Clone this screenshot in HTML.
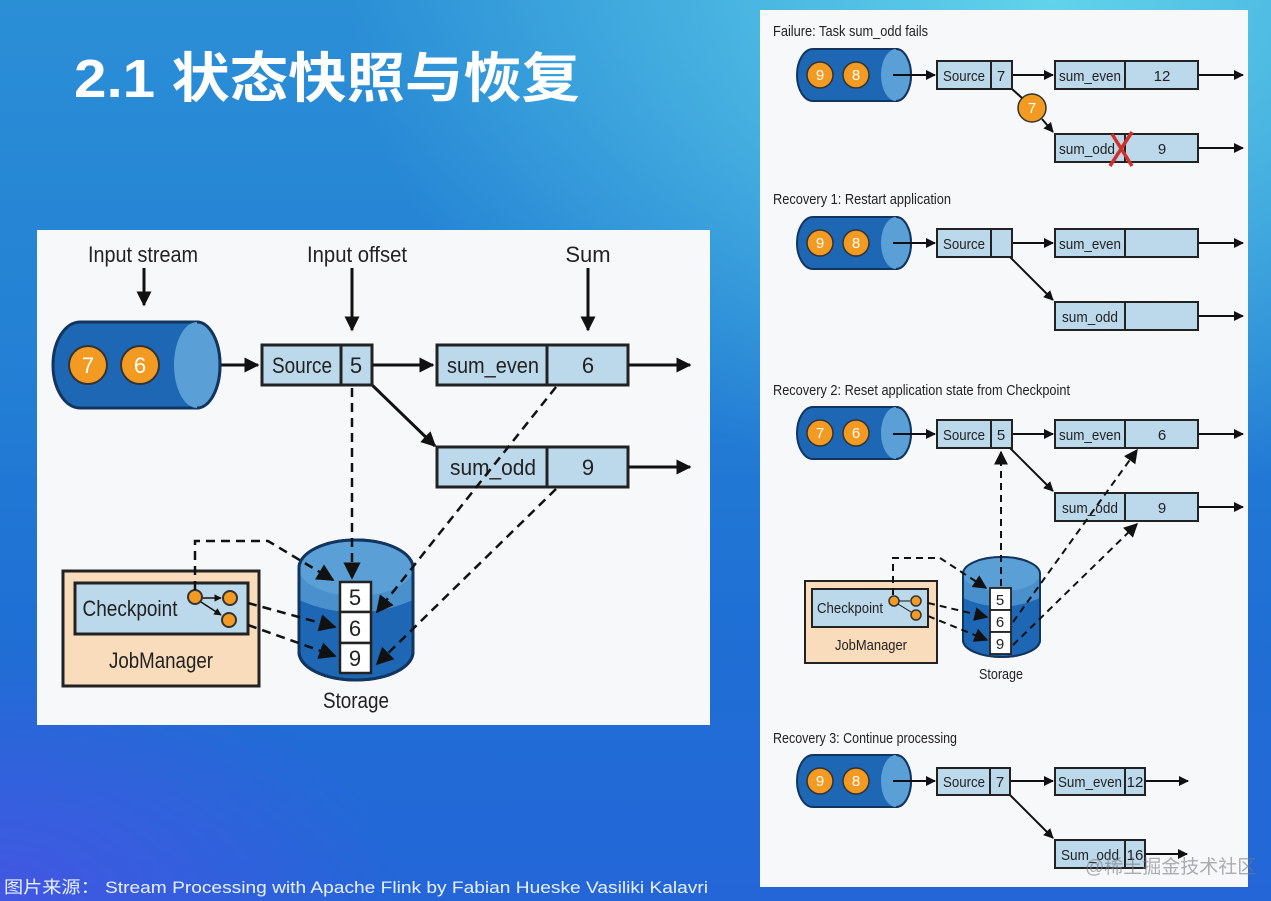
<!DOCTYPE html>
<html><head><meta charset="utf-8"><style>
html,body{margin:0;padding:0;width:1271px;height:901px;overflow:hidden}
body{background:
radial-gradient(ellipse 700px 500px at 1050px 0px, rgba(100,215,235,0.95), rgba(100,215,235,0) 100%),
radial-gradient(ellipse 400px 250px at 0px 901px, rgba(80,80,230,0.7), rgba(80,80,230,0) 100%),
linear-gradient(180deg,#2b8fd6 0%,#2380d4 40%,#1f6fd4 70%,#2466d8 100%);}
svg{position:absolute;left:0;top:0}
text{font-family:"Liberation Sans Narrow","Liberation Sans",sans-serif;fill:#222}
</style></head><body>
<svg width="1271" height="901" viewBox="0 0 1271 901" xmlns="http://www.w3.org/2000/svg">
<defs>
<marker id="a" viewBox="0 0 10 10" refX="9" refY="5" markerWidth="5" markerHeight="5" orient="auto"><path d="M0,0 L10,5 L0,10 z" fill="#111"/></marker>
<marker id="s" viewBox="0 0 10 10" refX="9" refY="5" markerWidth="7" markerHeight="7" orient="auto"><path d="M0,0 L10,5 L0,10 z" fill="#111"/></marker>
</defs>
<text x="74" y="97" textLength="506" lengthAdjust="spacingAndGlyphs" style="font-family:'Liberation Sans','Noto Sans CJK SC',sans-serif;font-weight:bold;font-size:54px;fill:#fff">2.1 状态快照与恢复</text>
<text x="4" y="893" textLength="704" lengthAdjust="spacingAndGlyphs" style="font-family:'Liberation Sans','Noto Sans CJK SC',sans-serif;font-size:17px;fill:#e8f0ff">图片来源：  Stream Processing with Apache Flink by Fabian Hueske Vasiliki Kalavri</text>

<!-- LEFT PANEL -->
<rect x="37" y="230" width="673" height="495" fill="#f7f8fa"/>
<g font-size="22">
<text x="143" y="262" text-anchor="middle" textLength="110" lengthAdjust="spacingAndGlyphs">Input stream</text>
<text x="357" y="262" text-anchor="middle" textLength="100" lengthAdjust="spacingAndGlyphs">Input offset</text>
<text x="588" y="262" text-anchor="middle">Sum</text>
</g>
<g stroke="#111" stroke-width="3" fill="none" marker-end="url(#a)">
<line x1="144" y1="268" x2="144" y2="305"/>
<line x1="352" y1="268" x2="352" y2="330"/>
<line x1="588" y1="268" x2="588" y2="330"/>
<line x1="195" y1="365" x2="258" y2="365"/>
<line x1="372" y1="365" x2="433" y2="365"/>
<line x1="628" y1="365" x2="690" y2="365"/>
<line x1="628" y1="467" x2="690" y2="467"/>
<line x1="370" y1="383" x2="435" y2="446"/>
</g>
<!-- input cylinder -->
<path d="M80 322 H197 A23 43 0 0 1 197 408 H80 A27 43 0 0 1 80 322 Z" fill="#1d67b4" stroke="#123560" stroke-width="3"/>
<path d="M197 322 A23 43 0 0 1 197 408 A23 43 0 0 1 197 322 Z" fill="#5a9fd6"/>
<path d="M197 322 A23 43 0 0 1 197 408" fill="none" stroke="#123560" stroke-width="3"/>
<circle cx="88" cy="365" r="19" fill="#f29a22" stroke="#333" stroke-width="2"/>
<circle cx="140" cy="365" r="19" fill="#f29a22" stroke="#333" stroke-width="2"/>
<g font-size="22" fill="#fff"><text x="88" y="373" text-anchor="middle" style="fill:#fff">7</text><text x="140" y="373" text-anchor="middle" style="fill:#fff">6</text></g>
<!-- boxes -->
<g fill="#bcd9ec" stroke="#222" stroke-width="3">
<rect x="262" y="345" width="110" height="40"/><line x1="341" y1="345" x2="341" y2="385"/>
<rect x="437" y="345" width="191" height="40"/><line x1="547" y1="345" x2="547" y2="385"/>
<rect x="437" y="447" width="191" height="40"/><line x1="547" y1="447" x2="547" y2="487"/>
</g>
<g font-size="22">
<text x="302" y="373" text-anchor="middle" textLength="60" lengthAdjust="spacingAndGlyphs">Source</text>
<text x="356" y="373" text-anchor="middle">5</text>
<text x="493" y="373" text-anchor="middle" textLength="92" lengthAdjust="spacingAndGlyphs">sum_even</text>
<text x="588" y="373" text-anchor="middle">6</text>
<text x="493" y="475" text-anchor="middle" textLength="86" lengthAdjust="spacingAndGlyphs">sum_odd</text>
<text x="588" y="475" text-anchor="middle">9</text>
</g>
<!-- storage -->
<path d="M299 568 A57 28 0 0 1 413 568 V652 A57 28 0 0 1 299 652 Z" fill="#1d67b4" stroke="#123560" stroke-width="3"/>
<path d="M299 568 A57 28 0 0 1 413 568 V600 Q356 625 299 600 Z" fill="#4a90cc"/>
<ellipse cx="356" cy="568" rx="57" ry="28" fill="#5a9fd6"/>
<path d="M299 568 A57 28 0 0 1 413 568 V652 A57 28 0 0 1 299 652 Z" fill="none" stroke="#123560" stroke-width="3"/>
<g fill="#fff" stroke="#222" stroke-width="2.5">
<rect x="340" y="582" width="31" height="30"/><rect x="340" y="612" width="31" height="31"/><rect x="340" y="643" width="31" height="30"/>
</g>
<g font-size="22"><text x="355" y="605" text-anchor="middle">5</text><text x="355" y="636" text-anchor="middle">6</text><text x="355" y="666" text-anchor="middle">9</text></g>
<text x="356" y="708" font-size="22" text-anchor="middle" textLength="66" lengthAdjust="spacingAndGlyphs">Storage</text>
<!-- jobmanager -->
<rect x="63" y="571" width="196" height="115" fill="#f8dcbc" stroke="#222" stroke-width="3"/>
<rect x="75" y="583" width="173" height="51" fill="#bcd9ec" stroke="#222" stroke-width="3"/>
<text x="130" y="616" font-size="22" text-anchor="middle" textLength="95" lengthAdjust="spacingAndGlyphs">Checkpoint</text>
<text x="161" y="668" font-size="22" text-anchor="middle" textLength="104" lengthAdjust="spacingAndGlyphs">JobManager</text>
<g stroke="#111" stroke-width="1.5" marker-end="url(#a)"><line x1="202" y1="598" x2="221" y2="598"/><line x1="201" y1="602" x2="221" y2="615"/></g>
<g fill="#f29a22" stroke="#333" stroke-width="2"><circle cx="195" cy="597" r="7"/><circle cx="230" cy="598" r="7"/><circle cx="229" cy="620" r="7"/></g>
<g stroke="#111" stroke-width="2.5" fill="none" stroke-dasharray="9,6" marker-end="url(#s)">
<path d="M195 590 V541 H268 L333 580"/>
<line x1="248" y1="603" x2="335" y2="627"/>
<line x1="248" y1="625" x2="335" y2="656"/>
<line x1="352" y1="388" x2="352" y2="578"/>
<line x1="556" y1="387" x2="377" y2="612"/>
<line x1="556" y1="489" x2="377" y2="664"/>
</g>

<!-- RIGHT PANEL -->
<rect x="760" y="10" width="488" height="877" fill="#f7f8fa"/>
<g font-size="15">
<text x="773" y="36" textLength="155" lengthAdjust="spacingAndGlyphs">Failure: Task sum_odd fails</text>
<text x="773" y="204" textLength="178" lengthAdjust="spacingAndGlyphs">Recovery 1: Restart application</text>
<text x="773" y="395" textLength="297" lengthAdjust="spacingAndGlyphs">Recovery 2: Reset application state from Checkpoint</text>
<text x="773" y="743" textLength="184" lengthAdjust="spacingAndGlyphs">Recovery 3: Continue processing</text>
</g>

<g id="cyl1">
<path d="M813 49 H896 A15 26 0 0 1 896 101 H813 A16 26 0 0 1 813 49 Z" fill="#1d67b4" stroke="#123560" stroke-width="2"/>
<path d="M896 49 A15 26 0 0 1 896 101 A15 26 0 0 1 896 49 Z" fill="#5a9fd6"/>
<path d="M896 49 A15 26 0 0 1 896 101" fill="none" stroke="#123560" stroke-width="2"/>
</g>
<use href="#cyl1" y="168"/><use href="#cyl1" y="358"/><use href="#cyl1" y="706"/>
<g fill="#f29a22" stroke="#333" stroke-width="1.5">
<circle cx="820" cy="75" r="13"/><circle cx="856" cy="75" r="13"/>
<circle cx="820" cy="243" r="13"/><circle cx="856" cy="243" r="13"/>
<circle cx="820" cy="433" r="13"/><circle cx="856" cy="433" r="13"/>
<circle cx="820" cy="781" r="13"/><circle cx="856" cy="781" r="13"/>
<circle cx="1032" cy="108" r="14"/>
</g>
<g font-size="15" text-anchor="middle" style="fill:#fff">
<text x="820" y="80" style="fill:#fff">9</text><text x="856" y="80" style="fill:#fff">8</text>
<text x="820" y="248" style="fill:#fff">9</text><text x="856" y="248" style="fill:#fff">8</text>
<text x="820" y="438" style="fill:#fff">7</text><text x="856" y="438" style="fill:#fff">6</text>
<text x="820" y="786" style="fill:#fff">9</text><text x="856" y="786" style="fill:#fff">8</text>
<text x="1032" y="113" style="fill:#fff">7</text>
</g>
<g stroke="#111" stroke-width="2" fill="none" marker-end="url(#a)">
<line x1="893" y1="75" x2="935" y2="75"/><line x1="1012" y1="75" x2="1053" y2="75"/><line x1="1198" y1="75" x2="1243" y2="75"/><line x1="1198" y1="148" x2="1243" y2="148"/>
<line x1="1042" y1="119" x2="1053" y2="132"/>
<line x1="893" y1="243" x2="935" y2="243"/><line x1="1012" y1="243" x2="1053" y2="243"/><line x1="1198" y1="243" x2="1243" y2="243"/><line x1="1198" y1="316" x2="1243" y2="316"/>
<line x1="1010" y1="257" x2="1053" y2="300"/>
<line x1="893" y1="434" x2="935" y2="434"/><line x1="1012" y1="434" x2="1053" y2="434"/><line x1="1198" y1="434" x2="1243" y2="434"/><line x1="1198" y1="507" x2="1243" y2="507"/>
<line x1="1010" y1="448" x2="1053" y2="491"/>
<line x1="893" y1="781" x2="935" y2="781"/><line x1="1010" y1="781" x2="1053" y2="781"/><line x1="1145" y1="781" x2="1188" y2="781"/><line x1="1145" y1="854" x2="1187" y2="854"/>
<line x1="1010" y1="795" x2="1053" y2="838"/>
</g>
<line x1="1012" y1="89" x2="1022" y2="98" stroke="#111" stroke-width="2"/>
<g fill="#bcd9ec" stroke="#222" stroke-width="2">
<rect x="937" y="61" width="75" height="28"/><line x1="991" y1="61" x2="991" y2="89"/>
<rect x="1055" y="61" width="143" height="28"/><line x1="1125" y1="61" x2="1125" y2="89"/>
<rect x="1055" y="134" width="143" height="28"/><line x1="1125" y1="134" x2="1125" y2="162"/>
<rect x="937" y="229" width="75" height="28"/><line x1="991" y1="229" x2="991" y2="257"/>
<rect x="1055" y="229" width="143" height="28"/><line x1="1125" y1="229" x2="1125" y2="257"/>
<rect x="1055" y="302" width="143" height="28"/><line x1="1125" y1="302" x2="1125" y2="330"/>
<rect x="937" y="420" width="75" height="28"/><line x1="991" y1="420" x2="991" y2="448"/>
<rect x="1055" y="420" width="143" height="28"/><line x1="1125" y1="420" x2="1125" y2="448"/>
<rect x="1055" y="493" width="143" height="28"/><line x1="1125" y1="493" x2="1125" y2="521"/>
<rect x="937" y="768" width="73" height="27"/><line x1="990" y1="768" x2="990" y2="795"/>
<rect x="1055" y="768" width="90" height="27"/><line x1="1125" y1="768" x2="1125" y2="795"/>
<rect x="1055" y="840" width="90" height="28"/><line x1="1125" y1="840" x2="1125" y2="868"/>
</g>
<g font-size="15" text-anchor="middle">
<text x="964" y="81" textLength="42" lengthAdjust="spacingAndGlyphs">Source</text><text x="1001" y="81">7</text>
<text x="1090" y="81" textLength="62" lengthAdjust="spacingAndGlyphs">sum_even</text><text x="1162" y="81">12</text>
<text x="1087" y="154" textLength="56" lengthAdjust="spacingAndGlyphs">sum_odd</text><text x="1162" y="154">9</text>
<text x="964" y="249" textLength="42" lengthAdjust="spacingAndGlyphs">Source</text>
<text x="1090" y="249" textLength="62" lengthAdjust="spacingAndGlyphs">sum_even</text>
<text x="1090" y="322" textLength="56" lengthAdjust="spacingAndGlyphs">sum_odd</text>
<text x="964" y="440" textLength="42" lengthAdjust="spacingAndGlyphs">Source</text><text x="1001" y="440">5</text>
<text x="1090" y="440" textLength="62" lengthAdjust="spacingAndGlyphs">sum_even</text><text x="1162" y="440">6</text>
<text x="1090" y="513" textLength="56" lengthAdjust="spacingAndGlyphs">sum_odd</text><text x="1162" y="513">9</text>
<text x="964" y="787" textLength="42" lengthAdjust="spacingAndGlyphs">Source</text><text x="1000" y="787">7</text>
<text x="1090" y="787" textLength="64" lengthAdjust="spacingAndGlyphs">Sum_even</text><text x="1135" y="787">12</text>
<text x="1090" y="860" textLength="58" lengthAdjust="spacingAndGlyphs">Sum_odd</text><text x="1135" y="860">16</text>
</g>
<g stroke="#d0302a" stroke-width="3.5"><line x1="1112" y1="134" x2="1132" y2="166"/><line x1="1132" y1="132" x2="1110" y2="166"/></g>

<!-- Recovery 2 storage -->
<path d="M963 574 A38.5 17 0 0 1 1040 574 V640 A38.5 17 0 0 1 963 640 Z" fill="#1d67b4" stroke="#123560" stroke-width="2"/>
<path d="M963 574 A38.5 17 0 0 1 1040 574 V598 Q1001 615 963 598 Z" fill="#4a90cc"/>
<ellipse cx="1001.5" cy="574" rx="38.5" ry="17" fill="#5a9fd6"/>
<path d="M963 574 A38.5 17 0 0 1 1040 574 V640 A38.5 17 0 0 1 963 640 Z" fill="none" stroke="#123560" stroke-width="2"/>
<g fill="#fff" stroke="#222" stroke-width="1.8">
<rect x="990" y="588" width="21" height="22"/><rect x="990" y="610" width="21" height="22"/><rect x="990" y="632" width="21" height="22"/>
</g>
<g font-size="15" text-anchor="middle"><text x="1000" y="605">5</text><text x="1000" y="627">6</text><text x="1000" y="649">9</text></g>
<text x="1001" y="679" font-size="15" text-anchor="middle" textLength="44" lengthAdjust="spacingAndGlyphs">Storage</text>
<rect x="805" y="581" width="132" height="82" fill="#f8dcbc" stroke="#222" stroke-width="2"/>
<rect x="812" y="589" width="116" height="38" fill="#bcd9ec" stroke="#222" stroke-width="2"/>
<text x="850" y="613" font-size="15" text-anchor="middle" textLength="66" lengthAdjust="spacingAndGlyphs">Checkpoint</text>
<text x="871" y="650" font-size="15" text-anchor="middle" textLength="72" lengthAdjust="spacingAndGlyphs">JobManager</text>
<g fill="#f29a22" stroke="#333" stroke-width="1.5"><circle cx="894" cy="601" r="5"/><circle cx="916" cy="601" r="5"/><circle cx="916" cy="615" r="5"/></g>
<g stroke="#111" stroke-width="1" ><line x1="899" y1="601" x2="910" y2="601"/><line x1="898" y1="604" x2="911" y2="612"/></g>
<g stroke="#111" stroke-width="2" fill="none" stroke-dasharray="7,5" marker-end="url(#s)">
<path d="M893 595 V558 H940 L986 588"/>
<line x1="928" y1="603" x2="987" y2="617"/>
<line x1="928" y1="616" x2="987" y2="640"/>
<line x1="1001" y1="586" x2="1001" y2="452"/>
<line x1="1013" y1="622" x2="1137" y2="450"/>
<line x1="1013" y1="645" x2="1137" y2="524"/>
</g>
<text x="1085" y="873" style="font-family:'Liberation Sans','Noto Sans CJK SC',sans-serif;font-size:19px;fill:rgba(120,120,130,0.6)">@稀土掘金技术社区</text>
</svg>
</body></html>
